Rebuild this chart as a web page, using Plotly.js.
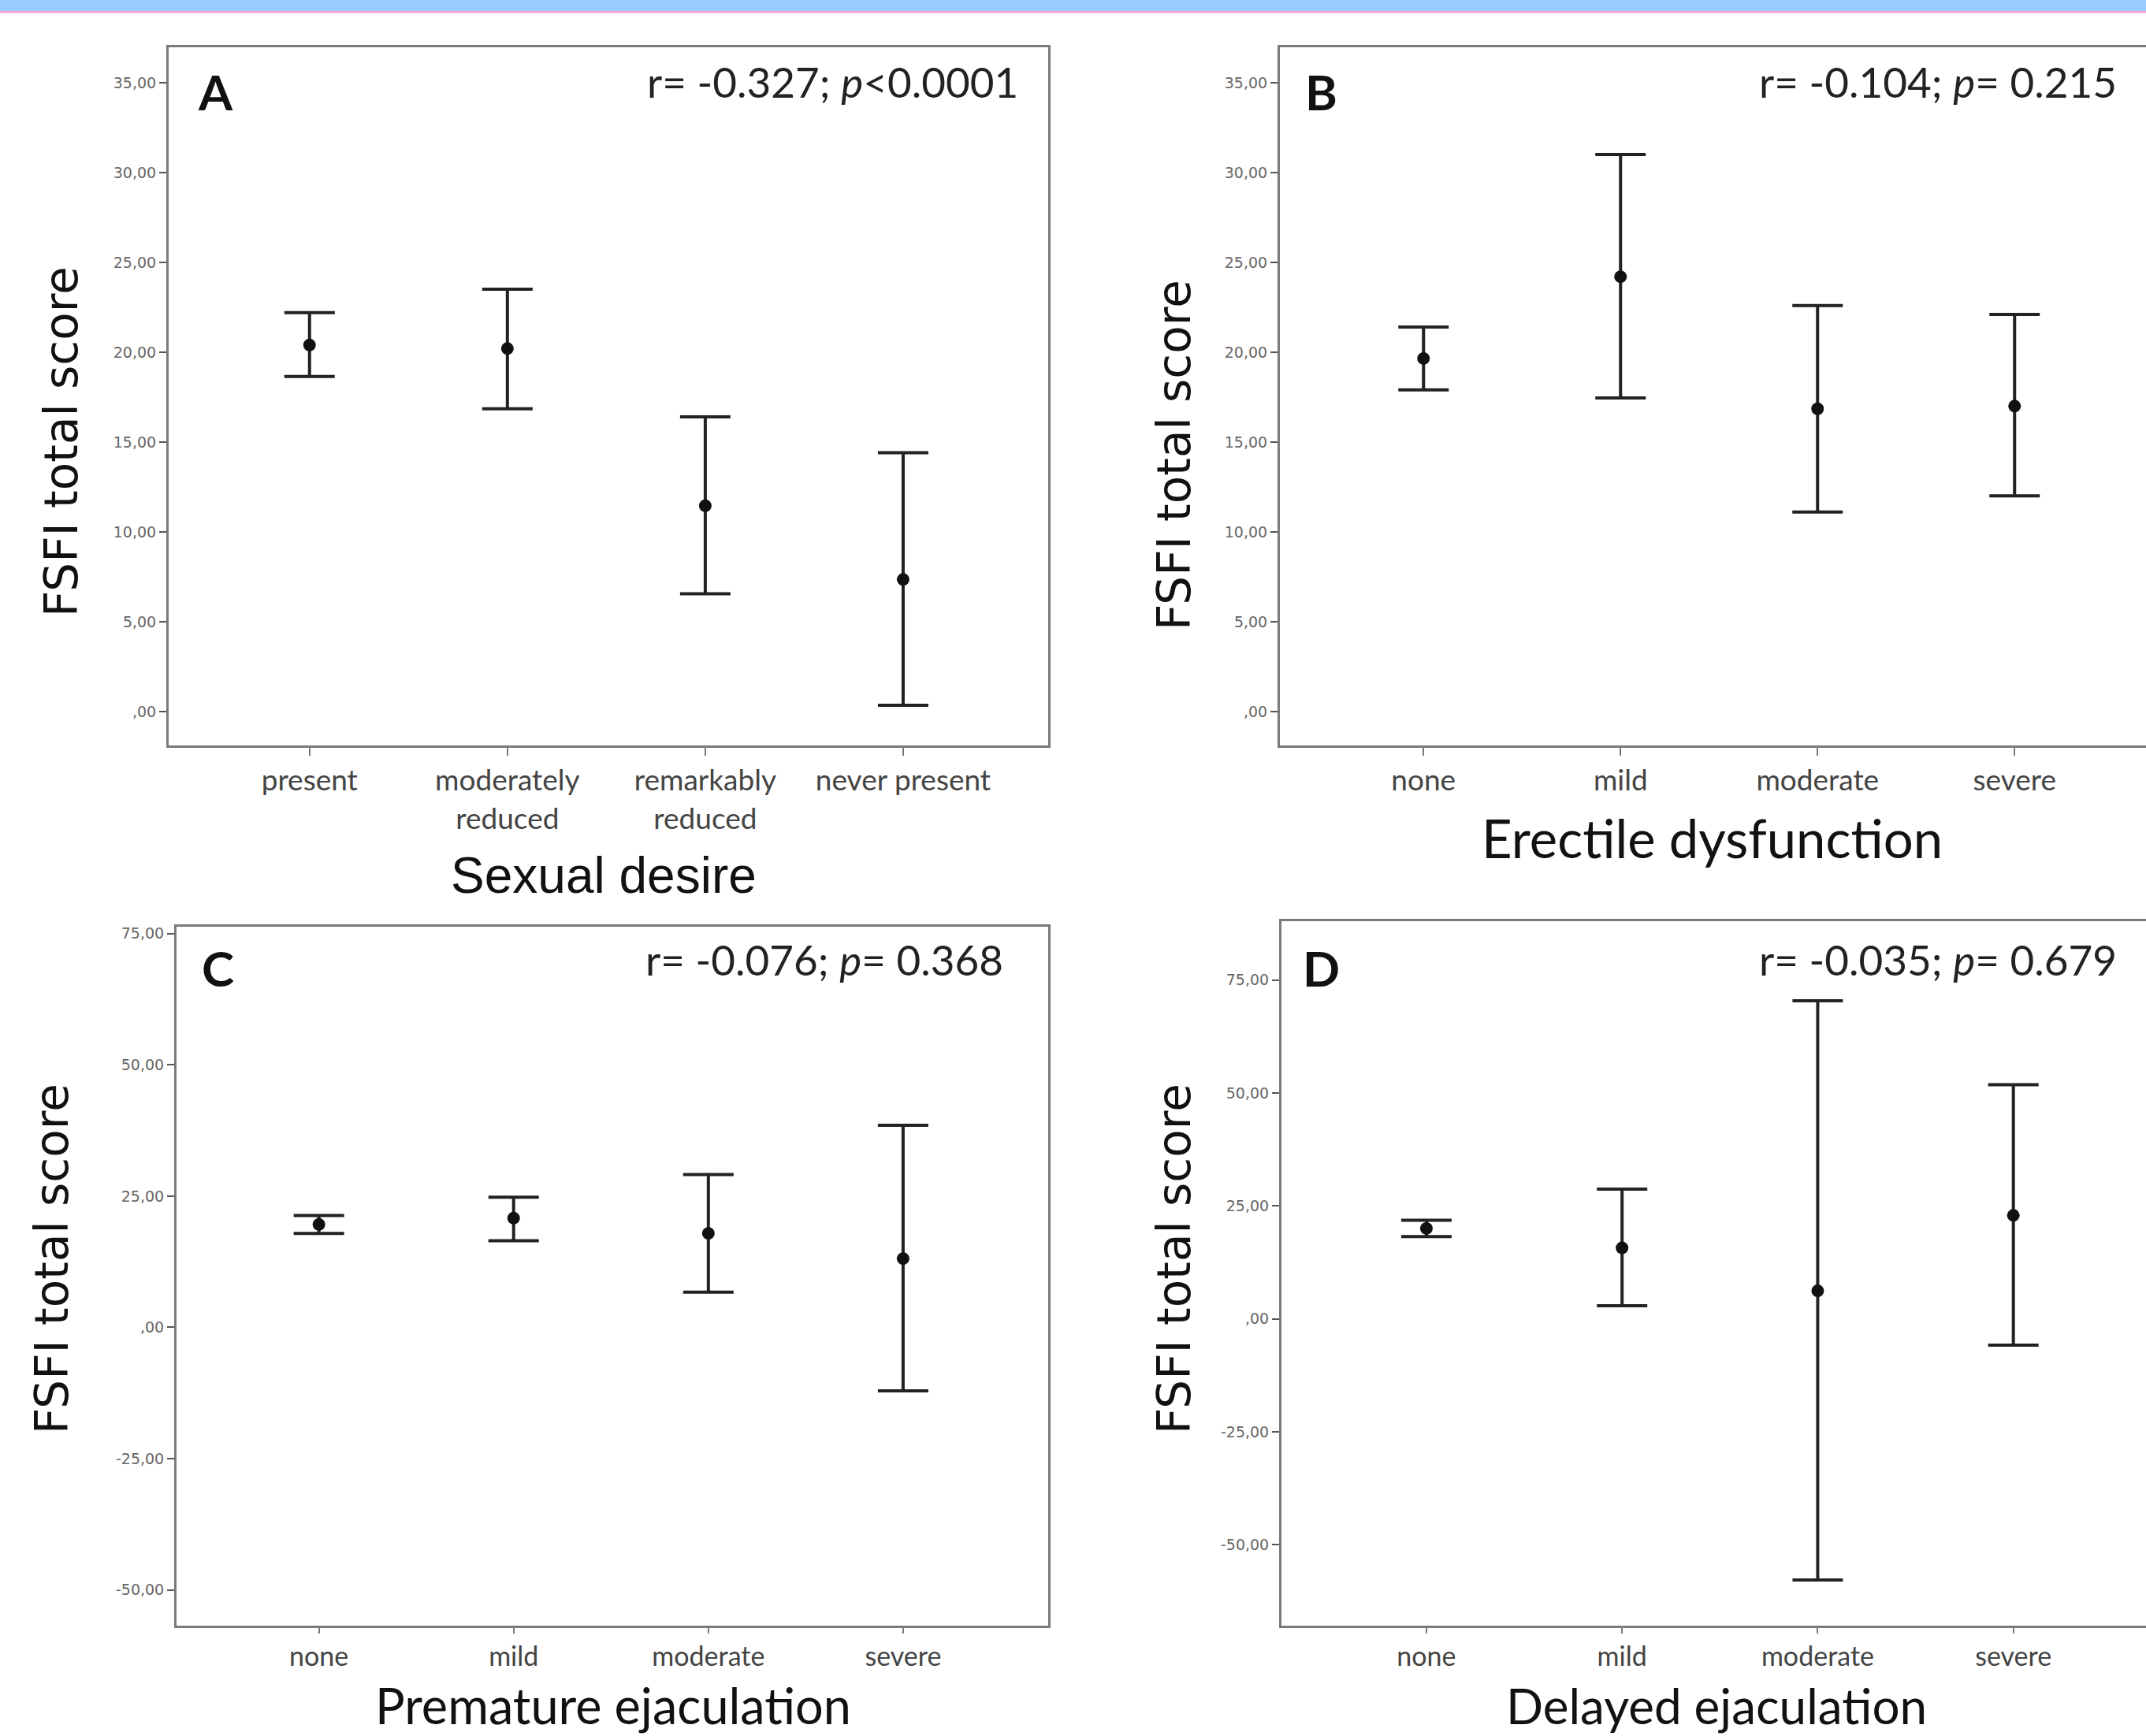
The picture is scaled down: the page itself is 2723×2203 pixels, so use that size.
<!DOCTYPE html>
<html><head><meta charset="utf-8">
<script src="https://cdn.plot.ly/plotly-3.0.1.min.js"></script>
<style>html,body{margin:0;padding:0;background:#fff}</style>
</head><body><div id="chart" style="width:2723px;height:2203px"></div>
<script>
// ---------- data ----------
const catsA = ["present", "moderately reduced", "remarkably reduced", "never present"];
const tickLabelsA = ["present", "moderately<br>reduced", "remarkably<br>reduced", "never present"];
const meanA  = [20.4, 20.2, 11.45, 7.35];
const upperA = [22.2, 23.5, 16.4, 14.4];
const lowerA = [18.65, 16.85, 6.55, 0.35];

const catsSev = ["none", "mild", "moderate", "severe"];
const meanB  = [19.65, 24.2, 16.85, 17.0];
const upperB = [21.4, 31.0, 22.6, 22.1];
const lowerB = [17.9, 17.45, 11.1, 12.0];

const meanC  = [19.6, 20.8, 17.9, 13.1];
const upperC = [21.3, 24.8, 29.1, 38.5];
const lowerC = [17.9, 16.5, 6.7, -12.1];

const meanD  = [20.0, 15.7, 6.2, 22.9];
const upperD = [21.8, 28.7, 70.4, 51.8];
const lowerD = [18.2, 2.9, -57.8, -5.8];

const yTicksAB = [0, 5, 10, 15, 20, 25, 30, 35];
const yTickTextAB = [",00", "5,00", "10,00", "15,00", "20,00", "25,00", "30,00", "35,00"];
const yTicksCD = [-50, -25, 0, 25, 50, 75];
const yTickTextCD = ["-50,00", "-25,00", ",00", "25,00", "50,00", "75,00"];

const yTitle = "FSFI total score";
const xTitles = ["Sexual desire", "Erectile dysfunction", "Premature ejaculation", "Delayed ejaculation"];
const panelLetters = ["A", "B", "C", "D"];
const statsText = [
  "r= -0.327; <i>p</i>&lt;0.0001",
  "r= -0.104; <i>p</i>= 0.215",
  "r= -0.076; <i>p</i>= 0.368",
  "r= -0.035; <i>p</i>= 0.679"
];

// ---------- helpers ----------
const W = 2723, H = 2203;
const px = x => x / W;
const py = y => 1 - y / H;

function trace(cats, mean, upper, lower, xa, ya) {
  return {
    type: "scatter", mode: "markers", x: cats, y: mean, xaxis: xa, yaxis: ya,
    marker: {color: "#111", size: 16},
    error_y: {
      type: "data", symmetric: false,
      array: upper.map((u, i) => u - mean[i]),
      arrayminus: lower.map((l, i) => mean[i] - l),
      color: "#222", thickness: 4, width: 32
    },
    hoverinfo: "x+y"
  };
}

const data = [
  trace(catsA, meanA, upperA, lowerA, "x", "y"),
  trace(catsSev, meanB, upperB, lowerB, "x2", "y2"),
  trace(catsSev, meanC, upperC, lowerC, "x3", "y3"),
  trace(catsSev, meanD, upperD, lowerD, "x4", "y4")
];

const lineCol = "#7a7a7a";
function xax(domain, range, cats, ticktext, anchor, fontSize, tlen) {
  return {
    domain: domain, range: range, type: "category", anchor: anchor,
    categoryorder: "array", categoryarray: cats,
    tickvals: cats, ticktext: ticktext,
    showline: true, mirror: true, linecolor: lineCol, linewidth: 3,
    ticks: "outside", ticklen: tlen, tickwidth: 2, tickcolor: lineCol,
    showgrid: false, zeroline: false, fixedrange: true,
    tickfont: {family: "Lato, 'Open Sans', sans-serif", size: fontSize, color: "#444"}
  };
}
function yax(domain, range, vals, text, anchor, mirror) {
  return {
    domain: domain, range: range, anchor: anchor,
    tickvals: vals, ticktext: text,
    showline: true, mirror: mirror, linecolor: lineCol, linewidth: 3,
    ticks: "outside", ticklen: 9, tickwidth: 2, tickcolor: "#555",
    showgrid: false, zeroline: false, fixedrange: true,
    tickfont: {family: "DejaVu Sans, sans-serif", size: 19, color: "#666"}
  };
}

const annotations = [];
const yTitlePos = [[78, 561], [1490, 578], [66, 1598], [1490, 1598]];
yTitlePos.forEach(p => annotations.push({
  text: yTitle, xref: "paper", yref: "paper", x: px(p[0]), y: py(p[1]),
  xanchor: "center", yanchor: "middle", textangle: -90, showarrow: false,
  font: {family: "DejaVu Sans, sans-serif", size: 58, color: "#111"}
}));
const xTitlePos = [[766, 1111], [2172, 1063], [778, 2163], [2178, 2164]];
const xTitleFonts = ["Liberation Sans, Arial, sans-serif", "Lato, sans-serif", "Lato, sans-serif", "Lato, sans-serif"];
const xTitleSizes = [64, 67, 63, 62];
xTitlePos.forEach((p, i) => annotations.push({
  text: xTitles[i], xref: "paper", yref: "paper", x: px(p[0]), y: py(p[1]),
  xanchor: "center", yanchor: "middle", showarrow: false,
  font: {family: xTitleFonts[i], size: xTitleSizes[i], color: "#111"}
}));
const letterPos = [[273, 116], [1676, 116], [276, 1228], [1677, 1228]];
letterPos.forEach((p, i) => annotations.push({
  text: "<b>" + panelLetters[i] + "</b>", xref: "paper", yref: "paper", x: px(p[0]), y: py(p[1]),
  xanchor: "center", yanchor: "middle", showarrow: false,
  font: {family: "Lato, sans-serif", size: 62, color: "#111"}
}));
const statsPos = [[1294, 104], [2688, 104], [1275, 1217], [2688, 1217]];
statsPos.forEach((p, i) => annotations.push({
  text: statsText[i], xref: "paper", yref: "paper", x: px(p[0]), y: py(p[1]),
  xanchor: "right", yanchor: "middle", showarrow: false,
  font: {family: "Lato, sans-serif", size: 53, color: "#222"}
}));

const xaB = xax([px(1624), 1.0], [-0.729, 3.667], catsSev, catsSev, "y2", 37, 10);
const yaB = yax([py(946), py(60)], [-1.89, 36.97], yTicksAB, yTickTextAB, "x2", false);
const xaD = xax([px(1626), 1.0], [-0.741, 3.678], catsSev, catsSev, "y4", 34, 7);
const yaD = yax([py(2063), py(1169)], [-67.9, 88.0], yTicksCD, yTickTextCD, "x4", false);

const layout = {
  width: W, height: H,
  margin: {l: 0, r: 0, t: 0, b: 0},
  paper_bgcolor: "#fff", plot_bgcolor: "#fff",
  showlegend: false,
  xaxis:  xax([px(214), px(1330)], [-0.712, 3.733], catsA, tickLabelsA, "y", 37, 10),
  yaxis:  yax([py(946), py(60)], [-1.89, 36.97], yTicksAB, yTickTextAB, "x", true),
  xaxis2: xaB,
  yaxis2: yaB,
  xaxis3: xax([px(224), px(1330)], [-0.731, 3.745], catsSev, catsSev, "y3", 34, 7),
  yaxis3: yax([py(2063), py(1176)], [-56.8, 76.3], yTicksCD, yTickTextCD, "x3", true),
  xaxis4: xaD,
  yaxis4: yaD,
  annotations: annotations,
  shapes: [
    {type: "rect", xref: "paper", yref: "paper", x0: 0, x1: 1, y0: py(14), y1: 1,
     fillcolor: "#99ccff", line: {width: 0}, layer: "above"},
    {type: "rect", xref: "paper", yref: "paper", x0: 0, x1: 1, y0: py(16.5), y1: py(14),
     fillcolor: "#ff9fcf", line: {width: 0}, layer: "above"}
  ]
};

Plotly.newPlot("chart", data, layout, {staticPlot: true, displayModeBar: false});
</script>
</body></html>
